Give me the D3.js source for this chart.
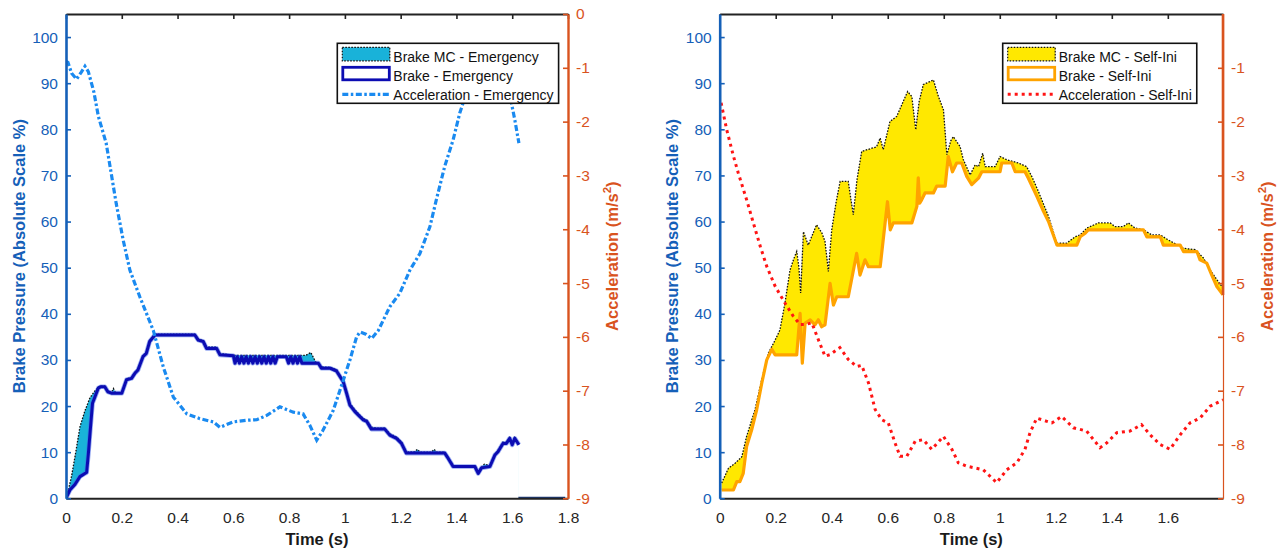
<!DOCTYPE html>
<html><head><meta charset="utf-8">
<script src="https://cdn.jsdelivr.net/npm/d3@7"></script>
<style>
body{margin:0;background:#fff}
svg{display:block}
text{font-family:"Liberation Sans",Arial,Helvetica,sans-serif}
</style>
</head><body>
<svg id="chart" width="1282" height="551"></svg>
<script>
// ---------- tick values / labels ----------
const xTicks = [0,0.2,0.4,0.6,0.8,1,1.2,1.4,1.6,1.8];
const xTickLabels = ["0","0.2","0.4","0.6","0.8","1","1.2","1.4","1.6","1.8"];
const yLeftTicks = [0,10,20,30,40,50,60,70,80,90,100];
const yRightTicksEm = [-9,-8,-7,-6,-5,-4,-3,-2,-1,0];
const yRightTicksSi = [-9,-8,-7,-6,-5,-4,-3,-2,-1];

const emLegendLabels = ["Brake MC - Emergency","Brake - Emergency","Acceleration - Emergency"];
const siLegendLabels = ["Brake MC - Self-Ini","Brake - Self-Ini","Acceleration - Self-Ini"];

// ---------- Emergency (left chart) [time s, value] ----------
const emBrakeMC = [[0,0],[0.01,2.2],[0.02,4.8],[0.035,10],[0.05,15.5],[0.068,19],[0.086,21.8],[0.104,23.3],[0.116,24.1],[0.125,24.3],[0.139,24.3],[0.15,23.2],[0.163,22.9],[0.17,23.8],[0.178,22.9],[0.2,22.9],[0.21,24.6],[0.217,25.9],[0.235,26.2],[0.247,27.3],[0.258,28.0],[0.276,30.9],[0.288,31.7],[0.3,34.3],[0.319,35.6],[0.462,35.6],[0.474,34.6],[0.492,34.2],[0.504,32.8],[0.54,32.8],[0.552,31.4],[0.6,31.0],[0.86,31.0],[0.878,31.6],[0.895,29.6],[0.916,28.5],[0.946,28.4],[0.97,27.9],[0.994,25.5],[1.006,23.0],[1.018,20.6],[1.036,19.2],[1.054,18.0],[1.066,17.3],[1.078,17.0],[1.095,15.4],[1.12,15.2],[1.143,15.2],[1.161,14.0],[1.185,13.3],[1.203,12.2],[1.22,10.0],[1.25,10.1],[1.26,10.6],[1.27,10.0],[1.31,10.0],[1.32,10.6],[1.33,10.0],[1.358,10.0],[1.37,8.9],[1.388,7.1],[1.466,7.1],[1.478,5.6],[1.49,6.8],[1.5,7.4],[1.52,7.1],[1.538,9.6],[1.549,10.4],[1.567,12.2],[1.579,12.1],[1.591,13.2],[1.6,11.8],[1.609,13.2],[1.624,11.8]];
const emBrake = [[0,0],[0.014,1.8],[0.032,3.0],[0.05,4.7],[0.068,5.4],[0.074,5.6],[0.08,9.5],[0.088,15.5],[0.095,20.6],[0.104,22],[0.116,23.9],[0.125,24.2],[0.139,24.2],[0.15,23.1],[0.163,22.8],[0.2,22.8],[0.21,24.5],[0.217,25.7],[0.235,26.0],[0.247,27.1],[0.258,27.8],[0.276,30.7],[0.288,31.4],[0.3,34.0],[0.319,35.4],[0.462,35.4],[0.474,34.3],[0.492,34.0],[0.504,32.5],[0.54,32.5],[0.552,31.1],[0.6,30.9],[0.606,29.3],[0.614,30.7],[0.622,29.3],[0.63,30.7],[0.638,29.3],[0.646,30.7],[0.654,29.3],[0.662,30.7],[0.67,29.3],[0.678,30.7],[0.686,29.3],[0.694,30.7],[0.702,29.3],[0.71,30.7],[0.718,29.3],[0.726,30.7],[0.734,29.3],[0.742,30.7],[0.75,29.3],[0.758,30.7],[0.79,30.7],[0.798,29.3],[0.806,30.7],[0.814,29.3],[0.822,30.7],[0.83,29.3],[0.838,30.7],[0.846,29.3],[0.905,29.3],[0.916,28.2],[0.946,28.2],[0.97,27.6],[0.994,25.3],[1.006,22.8],[1.018,20.2],[1.036,18.8],[1.054,17.7],[1.066,17.0],[1.078,16.7],[1.095,15.0],[1.143,15.0],[1.161,13.7],[1.185,13.0],[1.203,11.9],[1.22,9.8],[1.358,9.8],[1.37,8.7],[1.388,6.9],[1.466,6.9],[1.478,5.4],[1.49,6.6],[1.52,6.9],[1.538,9.4],[1.549,10.1],[1.567,11.9],[1.579,11.9],[1.591,13.0],[1.6,11.6],[1.609,13.0],[1.624,11.6]];
const emBaseSegment = [[1.622,0],[1.79,0]];
const emAccel = [[0,-0.88],[0.007,-0.9],[0.02,-1.1],[0.038,-1.21],[0.055,-1.08],[0.068,-0.97],[0.08,-1.07],[0.1,-1.45],[0.116,-1.9],[0.144,-2.4],[0.164,-3.02],[0.18,-3.52],[0.205,-4.2],[0.229,-4.76],[0.265,-5.26],[0.313,-5.88],[0.349,-6.56],[0.385,-7.12],[0.433,-7.43],[0.48,-7.52],[0.528,-7.58],[0.552,-7.68],[0.6,-7.58],[0.648,-7.55],[0.684,-7.54],[0.72,-7.46],[0.767,-7.3],[0.815,-7.4],[0.85,-7.43],[0.875,-7.65],[0.899,-7.92],[0.92,-7.75],[0.958,-7.37],[0.994,-6.81],[1.018,-6.43],[1.042,-6.0],[1.054,-5.91],[1.075,-5.95],[1.096,-6.03],[1.12,-5.88],[1.161,-5.44],[1.197,-5.19],[1.233,-4.76],[1.269,-4.45],[1.305,-3.95],[1.328,-3.45],[1.358,-2.83],[1.388,-2.34],[1.412,-1.84],[1.424,-1.65],[1.45,-1.2],[1.5,-0.9],[1.55,-0.95],[1.585,-1.3],[1.597,-1.65],[1.609,-1.96],[1.624,-2.4]];

// ---------- Self-initiated (right chart) ----------
const siBrakeMC = [[0.007,3.3],[0.031,6.5],[0.055,7.6],[0.079,9.0],[0.096,13.4],[0.126,19.2],[0.15,25.7],[0.174,31.5],[0.198,34.3],[0.215,36.5],[0.233,42.3],[0.251,49.5],[0.265,52],[0.275,53.5],[0.283,50],[0.289,44.5],[0.299,57.8],[0.316,54.9],[0.346,59.3],[0.365,57.5],[0.376,55.7],[0.388,49.2],[0.4,58.2],[0.415,64],[0.43,68.7],[0.459,68.7],[0.468,65],[0.477,61.5],[0.49,69],[0.507,75.2],[0.543,75.9],[0.56,76.2],[0.573,78.1],[0.584,75.6],[0.608,81.7],[0.632,82.8],[0.655,86],[0.671,88.2],[0.686,87.1],[0.7,79.9],[0.712,86],[0.727,89.7],[0.763,90.7],[0.781,87.1],[0.799,84.2],[0.811,74.5],[0.825,77.5],[0.834,78.4],[0.858,76.3],[0.87,73.4],[0.894,70.1],[0.912,72.3],[0.924,71.9],[0.939,74.8],[0.948,71.9],[0.983,71.9],[1.001,74.1],[1.025,73.4],[1.066,72.7],[1.096,71.9],[1.114,69.8],[1.138,66.5],[1.174,61.1],[1.204,55.3],[1.239,55.3],[1.269,56.7],[1.287,57.1],[1.311,58.6],[1.352,59.7],[1.394,59.7],[1.412,58.9],[1.441,58.9],[1.459,59.7],[1.483,58.6],[1.513,58.2],[1.543,57.1],[1.573,57.1],[1.602,56.0],[1.656,54.2],[1.698,53.9],[1.727,52.1],[1.751,49.5],[1.775,47.4],[1.797,45.6]];
const siBrake = [[0.007,1.8],[0.049,1.8],[0.061,3.6],[0.072,3.6],[0.084,5.4],[0.096,11.2],[0.114,14.8],[0.132,19.2],[0.15,24.9],[0.168,30.0],[0.186,32.3],[0.198,31.1],[0.275,31.1],[0.287,40.1],[0.295,29.3],[0.305,38.0],[0.323,38.7],[0.34,37.6],[0.352,38.7],[0.364,37.2],[0.376,37.6],[0.394,46.6],[0.406,41.9],[0.418,43.7],[0.459,43.7],[0.489,53.1],[0.501,48.4],[0.519,51.7],[0.531,50.2],[0.573,50.2],[0.599,64.3],[0.609,58.2],[0.62,59.7],[0.686,59.7],[0.704,63.3],[0.709,69.5],[0.714,64.0],[0.721,64.7],[0.733,66.2],[0.763,66.2],[0.775,67.7],[0.805,67.7],[0.816,74.1],[0.831,70.8],[0.846,72.7],[0.864,72.7],[0.882,69.8],[0.9,68.0],[0.924,69.4],[0.936,70.8],[1.001,70.8],[1.007,72.7],[1.043,72.7],[1.055,70.8],[1.09,70.8],[1.102,69.4],[1.132,65.5],[1.156,62.2],[1.174,60.0],[1.204,54.9],[1.275,54.9],[1.287,56.7],[1.305,57.5],[1.316,58.2],[1.513,58.2],[1.525,56.7],[1.573,56.7],[1.584,54.9],[1.644,54.9],[1.656,53.5],[1.704,53.5],[1.715,51.7],[1.739,51.0],[1.757,48.4],[1.775,45.9],[1.797,44.1]];
const siAccel = [[0.005,-1.65],[0.025,-2.15],[0.049,-2.64],[0.066,-2.95],[0.096,-3.45],[0.12,-3.88],[0.145,-4.32],[0.168,-4.69],[0.198,-5.06],[0.233,-5.37],[0.263,-5.62],[0.287,-5.77],[0.305,-5.77],[0.329,-5.74],[0.352,-6.05],[0.376,-6.36],[0.394,-6.33],[0.429,-6.2],[0.459,-6.42],[0.489,-6.55],[0.507,-6.53],[0.531,-6.85],[0.555,-7.35],[0.579,-7.54],[0.602,-7.6],[0.626,-7.97],[0.644,-8.22],[0.668,-8.22],[0.698,-7.94],[0.727,-7.91],[0.757,-8.09],[0.799,-7.85],[0.829,-8.09],[0.852,-8.34],[0.88,-8.4],[0.906,-8.43],[0.941,-8.47],[0.989,-8.71],[1.025,-8.47],[1.061,-8.34],[1.09,-8.09],[1.108,-7.78],[1.132,-7.51],[1.168,-7.57],[1.186,-7.6],[1.221,-7.48],[1.263,-7.69],[1.31,-7.75],[1.358,-8.06],[1.382,-7.97],[1.418,-7.78],[1.465,-7.75],[1.506,-7.63],[1.537,-7.82],[1.572,-8.0],[1.608,-8.09],[1.644,-7.82],[1.679,-7.6],[1.715,-7.51],[1.751,-7.29],[1.797,-7.17]];

// ---------- drawing ----------
const svg = d3.select("#chart");
const defs = svg.append("defs");
const BLUE = "#1560b8", ORANGE = "#d9531e";

function drawPanel(cfg) {
  const {L, R, T, B} = cfg.box;
  const x = d3.scaleLinear().domain(cfg.xDomain).range([L, R]);
  const yL = d3.scaleLinear().domain([0, 105]).range([B, T]);
  const yR = d3.scaleLinear().domain([-9, 0]).range([B, T]);

  defs.append("clipPath").attr("id", "clip-" + cfg.id)
    .append("rect").attr("x", L).attr("y", T).attr("width", R - L).attr("height", B - T);

  const g = svg.append("g");
  const plot = g.append("g").attr("clip-path", `url(#clip-${cfg.id})`);

  const area = d3.area().x(d => x(d[0])).y0(yL(0)).y1(d => yL(d[1]));
  const lineL = d3.line().x(d => x(d[0])).y(d => yL(d[1]));
  const lineR = d3.line().x(d => x(d[0])).y(d => yR(d[1]));

  // Brake MC area (filled, dotted black edge)
  plot.append("path").attr("d", area(cfg.mc)).attr("fill", cfg.mcFill);
  plot.append("path").attr("d", lineL(cfg.mc)).attr("fill", "none")
    .attr("stroke", "#111").attr("stroke-width", 1.3).attr("stroke-dasharray", "1.6,1.4");
  // Brake area (white fill, coloured edge)
  plot.append("path").attr("d", area(cfg.brake)).attr("fill", "#fff")
    .attr("stroke", "#fff").attr("stroke-width", 1);
  if (cfg.brakeHalo) {
    plot.append("path").attr("d", lineL(cfg.brake)).attr("fill", "none")
      .attr("stroke", cfg.brakeHalo).attr("stroke-width", 4.6).attr("stroke-linejoin", "round").attr("opacity", 0.55);
  }
  plot.append("path").attr("d", lineL(cfg.brake)).attr("fill", "none")
    .attr("stroke", cfg.brakeColor).attr("stroke-width", cfg.brakeWidth).attr("stroke-linejoin", "round");
  if (cfg.base) {
    plot.append("path").attr("d", lineL(cfg.base)).attr("fill", "none")
      .attr("stroke", "#1d3b78").attr("stroke-width", 3);
  }
  // Acceleration (right axis)
  plot.append("path").attr("d", lineR(cfg.acc)).attr("fill", "none")
    .attr("stroke", cfg.accColor).attr("stroke-width", cfg.accWidth)
    .attr("stroke-dasharray", cfg.accDash);

  const xt = xTicks.filter(t => t <= cfg.xDomain[1] + 1e-9);
  const fmtX = d => xTickLabels[xTicks.indexOf(d)];

  // bottom axis
  const gb = g.append("g").attr("transform", `translate(0,${B})`)
    .call(d3.axisBottom(x).tickValues(xt).tickFormat(fmtX).tickSize(0).tickSizeOuter(0).tickPadding(14));
  gb.select(".domain").attr("stroke", "#222").attr("stroke-width", 2);
  gb.selectAll("text").attr("font-size", 15.5).attr("fill", "#262626");
  // top axis
  const gt = g.append("g").attr("transform", `translate(0,${T})`)
    .call(d3.axisTop(x).tickValues(xt).tickFormat("").tickSize(-5).tickSizeOuter(0));
  gt.select(".domain").attr("stroke", "#222").attr("stroke-width", 2);
  gt.selectAll(".tick line").attr("stroke", "#222").attr("stroke-width", 1.6);

  // left axis
  const gl = g.append("g").attr("transform", `translate(${L},0)`)
    .call(d3.axisLeft(yL).tickValues(yLeftTicks).tickSize(-5).tickSizeOuter(0).tickPadding(8));
  gl.select(".domain").attr("stroke", BLUE).attr("stroke-width", 2.6);
  gl.selectAll(".tick line").attr("stroke", BLUE).attr("stroke-width", 1.6);
  gl.selectAll("text").attr("font-size", 15.5).attr("fill", BLUE);

  // right axis
  const gr = g.append("g").attr("transform", `translate(${R},0)`)
    .call(d3.axisRight(yR).tickValues(cfg.rightTicks).tickFormat(d => String(d)).tickSize(-5).tickSizeOuter(0).tickPadding(8));
  gr.select(".domain").attr("stroke", ORANGE).attr("stroke-width", cfg.rightAxisWidth);
  gr.selectAll(".tick line").attr("stroke", ORANGE).attr("stroke-width", 1.6);
  gr.selectAll("text").attr("font-size", 15.5).attr("fill", ORANGE);
  if (cfg.rightAxisThickTo !== undefined) {
    g.append("line").attr("x1", R).attr("x2", R).attr("y1", yR(0)).attr("y2", yL(cfg.rightAxisThickTo))
      .attr("stroke", ORANGE).attr("stroke-width", 2.6);
  }

  // titles
  g.append("text").attr("transform", `translate(${L - 41.5},${(T + B) / 2}) rotate(-90)`)
    .attr("text-anchor", "middle").attr("font-size", 16.5).attr("font-weight", "bold").attr("fill", BLUE)
    .text("Brake Pressure (Absolute Scale %)");
  const at = g.append("text").attr("transform", `translate(${R + 49.5},${(T + B) / 2}) rotate(-90)`)
    .attr("text-anchor", "middle").attr("font-size", 16.5).attr("font-weight", "bold").attr("fill", ORANGE);
  at.append("tspan").text("Acceleration (m/s");
  at.append("tspan").attr("font-size", 11.5).attr("dy", -7).text("2");
  at.append("tspan").attr("dy", 7).text(")");
  g.append("text").attr("x", (L + R) / 2).attr("y", 545)
    .attr("text-anchor", "middle").attr("font-size", 16.5).attr("font-weight", "bold").attr("fill", "#1a1a1a")
    .text("Time (s)");

  // legend
  const lg = g.append("g").attr("transform", `translate(${cfg.legendX},43.3)`);
  const box = lg.append("rect").attr("x", 0).attr("y", 0).attr("height", 60)
    .attr("fill", "#fff").attr("stroke", "#111").attr("stroke-width", 1.6);
  lg.append("rect").attr("x", 5).attr("y", 4).attr("width", 47.5).attr("height", 13.5)
    .attr("fill", cfg.mcFill).attr("stroke", "#111").attr("stroke-width", 1.2).attr("stroke-dasharray", "1.6,1.4");
  lg.append("rect").attr("x", 5.5).attr("y", 24).attr("width", 46.5).attr("height", 12.5)
    .attr("fill", "#fff").attr("stroke", cfg.brakeColor).attr("stroke-width", 2.8);
  lg.append("line").attr("x1", 5).attr("x2", 52.5).attr("y1", 51).attr("y2", 51)
    .attr("stroke", cfg.accColor).attr("stroke-width", cfg.accWidth).attr("stroke-dasharray", cfg.accDash);
  let maxW = 0;
  cfg.legendLabels.forEach((lab, i) => {
    const t = lg.append("text").attr("x", 56).attr("y", 18.3 + i * 19).attr("font-size", 14).attr("fill", "#111").text(lab);
    maxW = Math.max(maxW, t.node().getComputedTextLength());
  });
  box.attr("width", 56 + maxW + 5);
}

drawPanel({
  id: "em", box: {L: 66, R: 568, T: 14, B: 498.3}, xDomain: [0, 1.8],
  mc: emBrakeMC, brake: emBrake, acc: emAccel, base: emBaseSegment,
  mcFill: "#19b2d9", brakeColor: "#0c0cb2", brakeHalo: "#3f62e6", brakeWidth: 3,
  accColor: "#1a8af0", accWidth: 3.2, accDash: "6,2.5,2.5,2.5",
  rightTicks: yRightTicksEm, rightAxisWidth: 2.4,
  legendX: 337.3, legendLabels: emLegendLabels
});
drawPanel({
  id: "si", box: {L: 719.7, R: 1223, T: 14, B: 498.3}, xDomain: [0, 1.797],
  mc: siBrakeMC, brake: siBrake, acc: siAccel,
  mcFill: "#ffe800", brakeColor: "#ffa300", brakeWidth: 3.2,
  accColor: "#ff1414", accWidth: 3, accDash: "3,4",
  rightTicks: yRightTicksSi, rightAxisWidth: 1.2, rightAxisThickTo: siBrake[siBrake.length - 1][1],
  legendX: 1002.7, legendLabels: siLegendLabels
});
</script>
</body></html>
